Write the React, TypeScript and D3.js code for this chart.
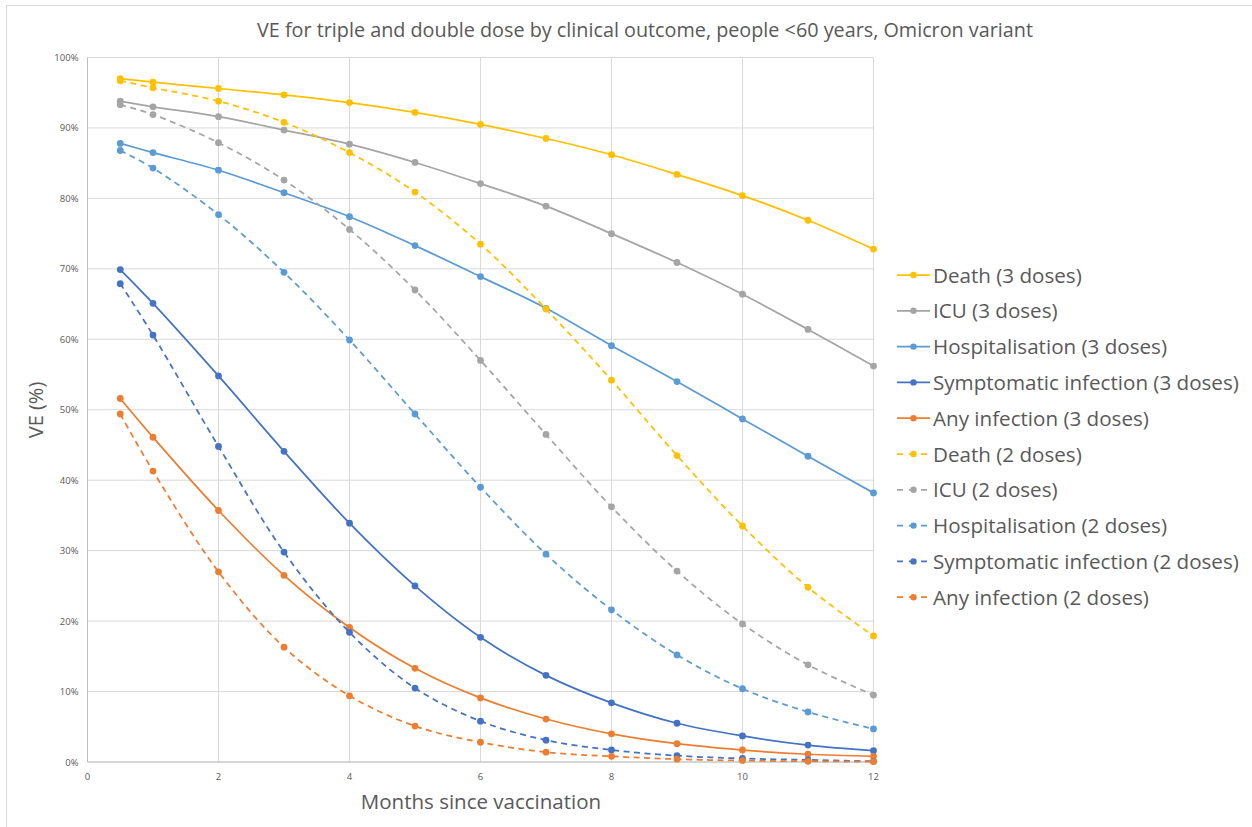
import React from "react";
import * as d3 from "d3";

const months = [0.5, 1, 2, 3, 4, 5, 6, 7, 8, 9, 10, 11, 12];
const xTicks = [0, 2, 4, 6, 8, 10, 12];
const yTicks = [0, 10, 20, 30, 40, 50, 60, 70, 80, 90, 100];

const death3 = [97.0, 96.5, 95.6, 94.7, 93.6, 92.2, 90.5, 88.5, 86.2, 83.4, 80.4, 76.9, 72.8];
const icu3 = [93.8, 93.0, 91.6, 89.7, 87.7, 85.1, 82.1, 78.9, 75.0, 70.9, 66.4, 61.4, 56.2];
const hosp3 = [87.8, 86.5, 84.0, 80.8, 77.4, 73.3, 68.9, 64.4, 59.1, 54.0, 48.7, 43.4, 38.2];
const symp3 = [69.9, 65.1, 54.8, 44.1, 33.9, 25.0, 17.7, 12.3, 8.4, 5.5, 3.7, 2.4, 1.6];
const any3 = [51.6, 46.1, 35.7, 26.5, 19.1, 13.3, 9.1, 6.1, 4.0, 2.6, 1.7, 1.1, 0.8];
const death2 = [96.7, 95.7, 93.8, 90.8, 86.5, 80.9, 73.5, 64.3, 54.2, 43.5, 33.5, 24.8, 17.9];
const icu2 = [93.3, 91.9, 87.9, 82.6, 75.6, 67.0, 57.0, 46.5, 36.2, 27.1, 19.6, 13.8, 9.5];
const hosp2 = [86.8, 84.3, 77.7, 69.5, 59.9, 49.4, 39.0, 29.5, 21.6, 15.2, 10.4, 7.1, 4.7];
const symp2 = [67.9, 60.6, 44.8, 29.8, 18.4, 10.5, 5.8, 3.1, 1.7, 0.9, 0.5, 0.3, 0.1];
const any2 = [49.4, 41.3, 27.0, 16.3, 9.4, 5.1, 2.8, 1.4, 0.8, 0.4, 0.2, 0.1, 0.05];

const seriesNames = [
  "Death (3 doses)",
  "ICU (3 doses)",
  "Hospitalisation (3 doses)",
  "Symptomatic infection (3 doses)",
  "Any infection (3 doses)",
  "Death (2 doses)",
  "ICU (2 doses)",
  "Hospitalisation (2 doses)",
  "Symptomatic infection (2 doses)",
  "Any infection (2 doses)",
];
const seriesValues = [death3, icu3, hosp3, symp3, any3, death2, icu2, hosp2, symp2, any2];
const seriesColors = ["#FFC000", "#A5A5A5", "#5B9BD5", "#4472C4", "#ED7D31", "#FFC000", "#A5A5A5", "#5B9BD5", "#4472C4", "#ED7D31"];
const seriesDashed = [false, false, false, false, false, true, true, true, true, true];

const W = 1252;
const H = 827;
const font = "'Open Sans', 'Liberation Sans', sans-serif";

export default function App() {
  const x = d3.scaleLinear().domain([0, 12]).range([87.5, 873.5]);
  const y = d3.scaleLinear().domain([0, 100]).range([762, 57.5]);
  const line = d3
    .line<[number, number]>()
    .x((d) => x(d[0]))
    .y((d) => y(d[1]))
    .curve(d3.curveCatmullRom.alpha(0.5));

  const legendX = 897;
  const legendY0 = 275;
  const legendStep = 35.8;

  return (
    <svg
      width={W}
      height={H}
      style={{ position: "absolute", left: 0, top: 0, display: "block", background: "#fff" }}
    >
      <rect x={0} y={0} width={W} height={H} fill="#fff" />
      <rect x={6.5} y={5.5} width={W + 20} height={H + 20} fill="none" stroke="#D9D9D9" />
      <text x={645} y={37} textAnchor="middle" fontFamily={font} fontSize={19.8} fill="#595959">
        VE for triple and double dose by clinical outcome, people &lt;60 years, Omicron variant
      </text>
      {yTicks.map((t) => (
        <line key={"gy" + t} x1={x(0)} x2={x(12)} y1={y(t)} y2={y(t)} stroke="#D9D9D9" strokeWidth={1} />
      ))}
      {xTicks.map((t) => (
        <line key={"gx" + t} x1={x(t)} x2={x(t)} y1={y(0)} y2={y(100)} stroke="#D9D9D9" strokeWidth={1} />
      ))}
      <line x1={x(0)} x2={x(0)} y1={y(0)} y2={y(100)} stroke="#BFBFBF" strokeWidth={1} />
      <line x1={x(0)} x2={x(12)} y1={y(0)} y2={y(0)} stroke="#BFBFBF" strokeWidth={1} />
      {yTicks.map((t) => (
        <text key={"ly" + t} x={x(0) - 9} y={y(t) + 3.5} textAnchor="end" fontFamily={font} fontSize={9.5} fill="#595959">
          {t + "%"}
        </text>
      ))}
      {xTicks.map((t) => (
        <text key={"lx" + t} x={x(t)} y={780} textAnchor="middle" fontFamily={font} fontSize={9.5} fill="#595959">
          {t}
        </text>
      ))}
      <text x={481} y={809} textAnchor="middle" fontFamily={font} fontSize={20.5} fill="#595959">
        Months since vaccination
      </text>
      <text
        transform={`translate(43,410) rotate(-90)`}
        textAnchor="middle"
        fontFamily={font}
        fontSize={20}
        fill="#595959"
      >
        VE (%)
      </text>
      {seriesValues.map((vals, i) => {
        const pts = months.map((m, j) => [m, vals[j]] as [number, number]);
        return (
          <g key={"s" + i}>
            <path
              d={line(pts) || ""}
              fill="none"
              stroke={seriesColors[i]}
              strokeWidth={1.75}
              strokeDasharray={seriesDashed[i] ? "6,4.5" : undefined}
            />
            {pts.map((p, j) => (
              <circle key={j} cx={x(p[0])} cy={y(p[1])} r={3.4} fill={seriesColors[i]} />
            ))}
          </g>
        );
      })}
      {seriesNames.map((name, i) => {
        const ly = legendY0 + i * legendStep;
        return (
          <g key={"lg" + i}>
            <line
              x1={legendX}
              x2={legendX + 33}
              y1={ly}
              y2={ly}
              stroke={seriesColors[i]}
              strokeWidth={1.75}
              strokeDasharray={seriesDashed[i] ? "6,6" : undefined}
            />
            <circle cx={legendX + 16.5} cy={ly} r={3.2} fill={seriesColors[i]} />
            <text x={legendX + 36} y={ly + 7.5} fontFamily={font} fontSize={20.6} fill="#595959">
              {name}
            </text>
          </g>
        );
      })}
    </svg>
  );
}
